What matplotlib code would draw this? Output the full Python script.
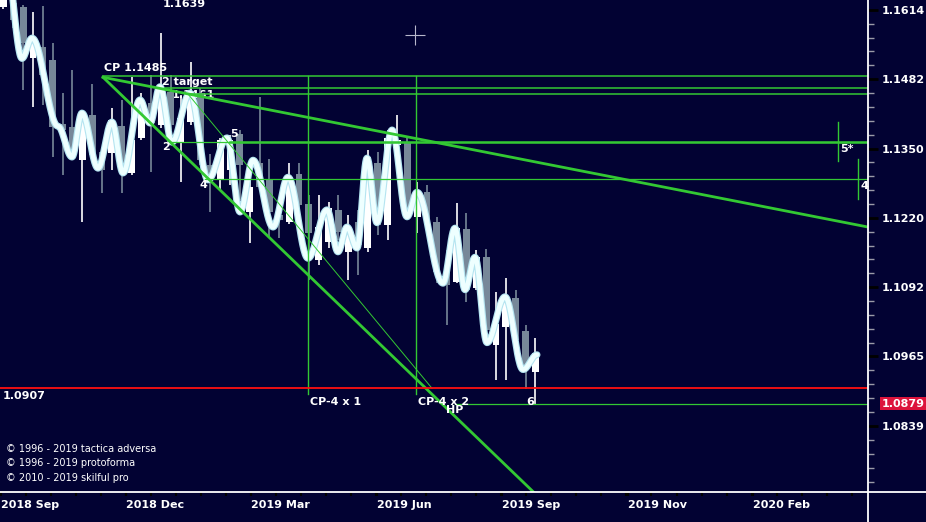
import numpy as np
import matplotlib
matplotlib.use("Agg")
import matplotlib.pyplot as plt
from matplotlib.lines import Line2D
from matplotlib.ticker import FixedLocator, NullFormatter

# weekly candles (index = week number)
opens = [1.1620, 1.1627, 1.1620, 1.1521, 1.1543, 1.1518, 1.1396, 1.1391, 1.1328, 1.1413,
         1.1342, 1.1342, 1.1392, 1.1304, 1.1370, 1.1436, 1.1394, 1.1457, 1.1360, 1.1400,
         1.1455, 1.1319, 1.1291, 1.1310, 1.1377, 1.1231, 1.1323, 1.1293, 1.1225, 1.1212,
         1.1302, 1.1246, 1.1142, 1.1175, 1.1235, 1.1157, 1.1211, 1.1164, 1.1323, 1.1207,
         1.1357, 1.1362, 1.1222, 1.1268, 1.1212, 1.1120, 1.1101, 1.1199, 1.1090, 1.1147,
         1.0986, 1.1019, 1.1072, 1.1010, 1.0937]
highs = [1.1645, 1.1633, 1.1624, 1.1610, 1.1622, 1.1550, 1.1455, 1.1498, 1.1420, 1.1472,
         1.1351, 1.1427, 1.1442, 1.1485, 1.1455, 1.1489, 1.1570, 1.1489, 1.1451, 1.1514,
         1.1465, 1.1340, 1.1370, 1.1375, 1.1385, 1.1319, 1.1448, 1.1330, 1.1254, 1.1323,
         1.1323, 1.1263, 1.1263, 1.1250, 1.1263, 1.1225, 1.1235, 1.1347, 1.1343, 1.1385,
         1.1413, 1.1370, 1.1287, 1.1281, 1.1222, 1.1161, 1.1248, 1.1229, 1.1161, 1.1162,
         1.1083, 1.1109, 1.1087, 1.1022, 1.0998]
lows = [1.1616, 1.1579, 1.1461, 1.1429, 1.1432, 1.1334, 1.1300, 1.1328, 1.1212, 1.1328,
        1.1267, 1.1310, 1.1267, 1.1300, 1.1366, 1.1306, 1.1389, 1.1385, 1.1287, 1.1394,
        1.1319, 1.1231, 1.1272, 1.1281, 1.1254, 1.1173, 1.1272, 1.1183, 1.1183, 1.1209,
        1.1235, 1.1105, 1.1133, 1.1164, 1.1179, 1.1105, 1.1114, 1.1157, 1.1188, 1.1179,
        1.1347, 1.1225, 1.1192, 1.1198, 1.1099, 1.1022, 1.1099, 1.1065, 1.1087, 1.1004,
        1.0923, 1.0923, 1.0986, 1.0905, 1.0879]
closes = [1.1636, 1.1595, 1.1550, 1.1562, 1.1489, 1.1391, 1.1385, 1.1334, 1.1417, 1.1338,
          1.1310, 1.1404, 1.1319, 1.1366, 1.1427, 1.1398, 1.1465, 1.1394, 1.1408, 1.1457,
          1.1328, 1.1300, 1.1366, 1.1366, 1.1319, 1.1278, 1.1278, 1.1231, 1.1216, 1.1296,
          1.1244, 1.1192, 1.1203, 1.1238, 1.1194, 1.1203, 1.1170, 1.1334, 1.1207, 1.1370,
          1.1366, 1.1235, 1.1268, 1.1212, 1.1120, 1.1096, 1.1201, 1.1087, 1.1147, 1.1014,
          1.1024, 1.1074, 1.0995, 1.0950, 1.0970]

# turning points of the smoothed line (week, price)
wave_x = [0.3, 1.88, 2.90, 5.54, 6.96, 7.97, 9.60, 11.02, 12.14, 13.86,
          14.88, 15.89, 17.11, 18.94, 20.77, 22.70, 24.02, 25.34, 27.37, 28.89,
          30.92, 32.85, 33.96, 34.88, 35.89, 36.91, 37.92, 39.45, 40.97, 41.98,
          44.62, 45.84, 46.86, 47.87, 49.09, 50.92, 52.75, 54.17]
wave_y = [1.1700, 1.1521, 1.1560, 1.1392, 1.1334, 1.1417, 1.1313, 1.1400, 1.1304, 1.1442,
          1.1398, 1.1467, 1.1362, 1.1455, 1.1291, 1.1370, 1.1231, 1.1328, 1.1203, 1.1296,
          1.1145, 1.1235, 1.1157, 1.1203, 1.1164, 1.1332, 1.1211, 1.1385, 1.1222, 1.1268,
          1.1099, 1.1201, 1.1087, 1.1147, 1.0990, 1.1074, 1.0941, 1.0968]

price_ticks = [1.0839, 1.0965, 1.1092, 1.1220, 1.1350, 1.1482, 1.1614]
date_pos = [-0.25, 12.44, 25.13, 37.92, 50.61, 63.41, 76.10]
date_labels = ["2018 Sep", "2018 Dec", "2019 Mar", "2019 Jun", "2019 Sep", "2019 Nov", "2020 Feb"]

cp_x, cp_price = 10.11, 1.1485
target_levels = [(10.11, 1.1487), (16.4, 1.1465), (19.0, 1.1453)]
last_price = 1.0879
hp_level = 1.0907

bg = "#020233"
green = "#33c833"
white = "#ffffff"
gray = "#778899"

fig = plt.figure(figsize=(9.26, 5.22), dpi=100, facecolor=bg)
ax = fig.add_axes([0, 30 / 522, 868 / 926, 492 / 522], facecolor=bg)
ax.set_yscale("log")
ax.set_xlim(-0.35, 87.77)
ax.set_ylim(1.07209, 1.16333)

# candles
x = np.arange(len(opens))
o = np.array(opens)
c = np.array(closes)
up = c >= o
cols = np.where(up, white, gray)
ax.vlines(x, lows, highs, colors=cols, lw=1.2, zorder=3)
ax.bar(x, np.abs(c - o) + 0.00005, bottom=np.minimum(o, c), width=0.7,
       color=cols, zorder=3, linewidth=0)

# smoothed wave (cosine easing between turning points)
wx, wy = [], []
for i in range(len(wave_x) - 1):
    t = np.linspace(0, 1, 30)
    e = (1 - np.cos(np.pi * t)) / 2
    wx.extend(wave_x[i] + (wave_x[i + 1] - wave_x[i]) * t)
    wy.extend(wave_y[i] + (wave_y[i + 1] - wave_y[i]) * e)
ax.plot(wx, wy, color="#b4e4f0", lw=5.0, solid_capstyle="round", zorder=4)
ax.plot(wx, wy, color="#eeffff", lw=3.4, solid_capstyle="round", zorder=4)

xr = 87.77
# horizontal target lines
for xs, lvl in target_levels:
    ax.plot([xs, xr], [lvl, lvl], color=green, lw=1.1, zorder=5)
ax.plot([16.91, xr], [1.1362, 1.1362], color=green, lw=0.9, zorder=5)
ax.plot([23.0, xr], [1.1362, 1.1362], color=green, lw=1.8, zorder=5)
ax.plot([20.46, xr], [1.1293, 1.1293], color=green, lw=0.9, zorder=5)
ax.plot([45.84, xr], [last_price, last_price], color=green, lw=0.9, zorder=5)
ax.plot([84.73, 84.73], [1.1326, 1.1400], color=green, lw=1.0, zorder=5)
ax.plot([86.76, 86.76], [1.1256, 1.1330], color=green, lw=1.0, zorder=5)

# fan lines from CP
ax.plot([cp_x, xr], [cp_price, 1.1203], color=green, lw=2.0, zorder=5)
ax.plot([cp_x, 54.57], [cp_price, 1.0708], color=green, lw=2.0, zorder=5)
ax.plot([18.74, 43.51], [1.1453, hp_level], color=green, lw=0.7, zorder=5)

# CP-4 verticals
for vx in [30.92, 41.93]:
    ax.plot([vx, vx], [1.1487, 1.0897], color=green, lw=1.0, zorder=5)

ax.axhline(hp_level, color="#ff1010", lw=1.3, zorder=5)

# cursor
ax.plot([41.78], [1.1566], marker="+", ms=15, mew=0.8, color="#b8b8cc", zorder=6)

tkw = dict(color=white, fontsize=8, fontweight="bold", va="center", ha="left", zorder=7)
ax.text(16.2, 1.1626, "1.1639", **tkw)
ax.text(10.21, 1.1502, "CP 1.1485", **tkw)
ax.text(16.1, 1.1476, "2 target", **tkw)
ax.text(17.1, 1.1451, "1.1461", color=white, fontsize=8, fontweight="bold",
        va="center", ha="left", zorder=2)
ax.text(16.1, 1.1353, "2", **tkw)
ax.text(23.0, 1.1377, "5", **tkw)
ax.text(19.95, 1.1281, "4", **tkw)
ax.text(31.1, 1.0883, "CP-4 x 1", **tkw)
ax.text(42.1, 1.0883, "CP-4 x 2", **tkw)
ax.text(44.93, 1.0867, "HP", **tkw)
ax.text(53.05, 1.0883, "6", **tkw)
ax.text(84.93, 1.1349, "5*", **tkw)
ax.text(86.96, 1.1279, "4", **tkw)
ax.text(-0.05, 1.0894, "1.0907", **tkw)

for yy, s in [(0.0874, "© 1996 - 2019 tactica adversa"),
              (0.0590, "© 1996 - 2019 protoforma"),
              (0.0285, "© 2010 - 2019 skilful pro")]:
    ax.text(0.007, yy, s, transform=ax.transAxes, color=white, fontsize=7.0,
            va="center", ha="left")

# right price axis
ax.yaxis.set_ticks_position("right")
ax.yaxis.set_major_locator(FixedLocator(price_ticks))
ax.set_yticklabels([f"{p:.4f}" for p in price_ticks])
minor = []
for a, b in zip(price_ticks[:-1], price_ticks[1:]):
    minor.extend(np.geomspace(a, b, 6)[1:-1])
step = (price_ticks[1] / price_ticks[0]) ** 0.2
for k in range(1, 5):
    minor.append(price_ticks[0] / step ** k)
ax.yaxis.set_minor_locator(FixedLocator(minor))
ax.yaxis.set_minor_formatter(NullFormatter())
ax.tick_params(axis="y", which="major", colors="black", length=7, width=2, pad=3,
               labelcolor=white, labelsize=8)
ax.tick_params(axis="y", which="minor", colors="#9a9aa8", length=4.5, width=1)
for lab in ax.get_yticklabels():
    lab.set_fontweight("bold")

ax.text(1.016, last_price, f"{last_price:.4f}", transform=ax.get_yaxis_transform(),
        color=white, fontsize=8, fontweight="bold", va="center", ha="left",
        bbox=dict(boxstyle="square,pad=0.15", fc="#dc143c", ec="none"), clip_on=False)

# date axis
ax.set_xticks(date_pos)
ax.set_xticklabels(date_labels)
ax.set_xticks(np.arange(-0.25, 87, 2.54), minor=True)
ax.tick_params(axis="x", which="both", colors="black", length=3, width=1.5,
               labelcolor=white, labelsize=8, pad=3)
for lab in ax.get_xticklabels():
    lab.set_fontweight("bold")
    lab.set_horizontalalignment("left")

for s in ax.spines.values():
    s.set_visible(False)
fig.add_artist(Line2D([868 / 926, 868 / 926], [0, 1], color=white, lw=1.3))
fig.add_artist(Line2D([0, 1], [30 / 522, 30 / 522], color=white, lw=1.3))

fig.savefig("out.png", dpi=100, facecolor=bg)
